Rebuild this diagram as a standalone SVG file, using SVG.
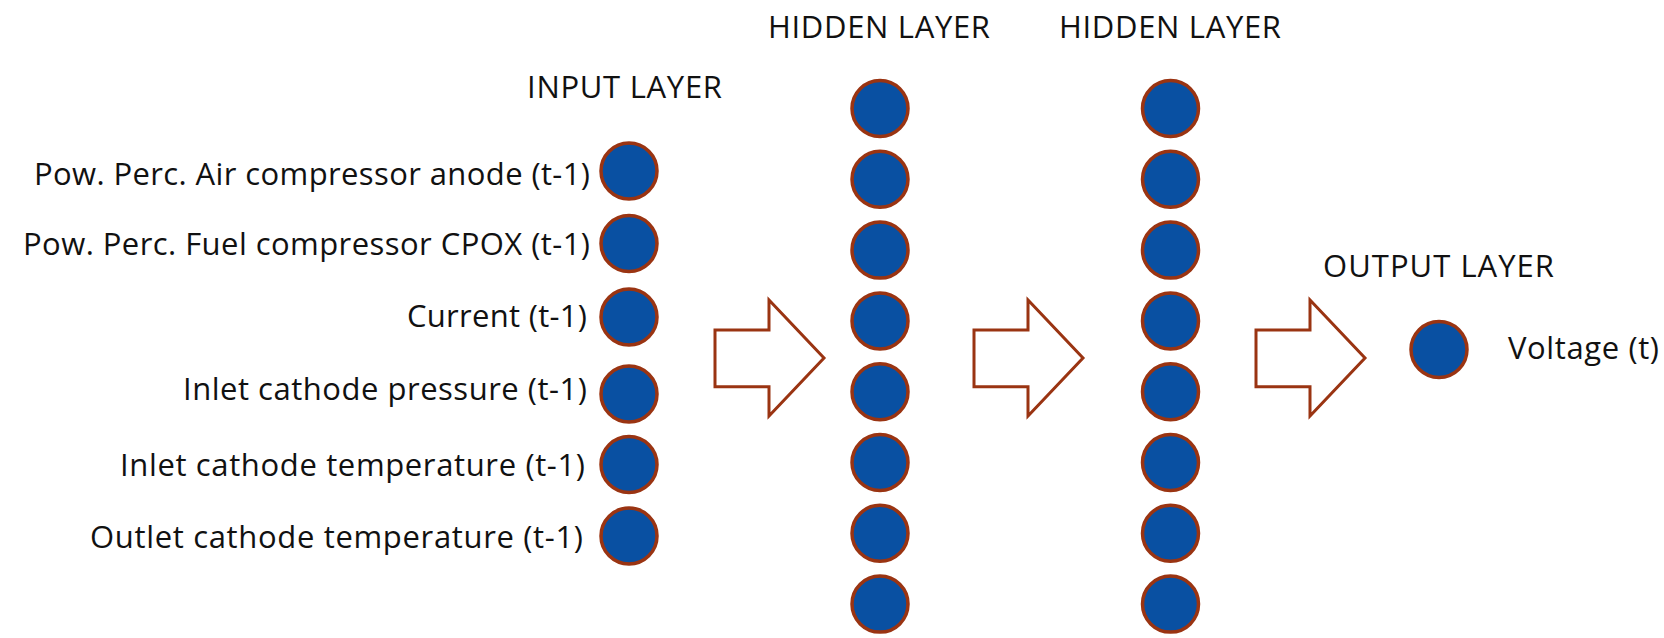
<svg xmlns="http://www.w3.org/2000/svg" width="1664" height="638" viewBox="0 0 1664 638">
<style>
  text { font-family: "Open Sans", "Noto Sans", "Liberation Sans", sans-serif; font-size: 31px; fill: #111; }
  .lbl { text-anchor: end; }
  .node { fill: #0950A2; stroke: #9A3412; stroke-width: 3.5; }
  .arrow { fill: #fff; stroke: #9A3412; stroke-width: 3; stroke-linejoin: miter; }
</style>
<rect width="1664" height="638" fill="#fff"/>
<g id="titles">
  <text x="527" y="98" textLength="195">INPUT LAYER</text>
  <text x="768" y="38" textLength="222">HIDDEN LAYER</text>
  <text x="1059" y="38" textLength="222">HIDDEN LAYER</text>
  <text x="1323" y="277" textLength="231">OUTPUT LAYER</text>
</g>
<g id="connectors">
  <path class="arrow" d="M715,330 H769 V300 L824,358 L769,416 V386.7 H715 Z"/>
  <path class="arrow" d="M974,330 H1028 V300 L1083,358 L1028,416 V386.7 H974 Z"/>
  <path class="arrow" d="M1256,330 H1310 V300 L1365,358 L1310,416 V386.7 H1256 Z"/>
</g>
<g id="input-layer">
  <g id="in1"><circle class="node" cx="629" cy="171" r="28"/><text class="lbl" x="590" y="185" textLength="556">Pow. Perc. Air compressor anode (t-1)</text></g>
  <g id="in2"><circle class="node" cx="629" cy="243.5" r="28"/><text class="lbl" x="590" y="255" textLength="567">Pow. Perc. Fuel compressor CPOX (t-1)</text></g>
  <g id="in3"><circle class="node" cx="629" cy="317" r="28"/><text class="lbl" x="587" y="327" textLength="180">Current (t-1)</text></g>
  <g id="in4"><circle class="node" cx="629" cy="394" r="28"/><text class="lbl" x="587" y="400" textLength="404">Inlet cathode pressure (t-1)</text></g>
  <g id="in5"><circle class="node" cx="629" cy="464.5" r="28"/><text class="lbl" x="585" y="476" textLength="465">Inlet cathode temperature (t-1)</text></g>
  <g id="in6"><circle class="node" cx="629" cy="536" r="28"/><text class="lbl" x="583" y="548" textLength="493">Outlet cathode temperature (t-1)</text></g>
</g>
<g id="hidden-layer-1">
  <circle id="h1n1" class="node" cx="880" cy="108.5" r="28"/>
  <circle id="h1n2" class="node" cx="880" cy="179.3" r="28"/>
  <circle id="h1n3" class="node" cx="880" cy="250.1" r="28"/>
  <circle id="h1n4" class="node" cx="880" cy="320.9" r="28"/>
  <circle id="h1n5" class="node" cx="880" cy="391.7" r="28"/>
  <circle id="h1n6" class="node" cx="880" cy="462.5" r="28"/>
  <circle id="h1n7" class="node" cx="880" cy="533.3" r="28"/>
  <circle id="h1n8" class="node" cx="880" cy="604.1" r="28"/>
</g>
<g id="hidden-layer-2">
  <circle id="h2n1" class="node" cx="1170.5" cy="108.5" r="28"/>
  <circle id="h2n2" class="node" cx="1170.5" cy="179.3" r="28"/>
  <circle id="h2n3" class="node" cx="1170.5" cy="250.1" r="28"/>
  <circle id="h2n4" class="node" cx="1170.5" cy="320.9" r="28"/>
  <circle id="h2n5" class="node" cx="1170.5" cy="391.7" r="28"/>
  <circle id="h2n6" class="node" cx="1170.5" cy="462.5" r="28"/>
  <circle id="h2n7" class="node" cx="1170.5" cy="533.3" r="28"/>
  <circle id="h2n8" class="node" cx="1170.5" cy="604.1" r="28"/>
</g>
<g id="output-layer">
  <g id="out1"><circle class="node" cx="1439" cy="349.5" r="28"/><text x="1508" y="359" textLength="151">Voltage (t)</text></g>
</g>
</svg>
